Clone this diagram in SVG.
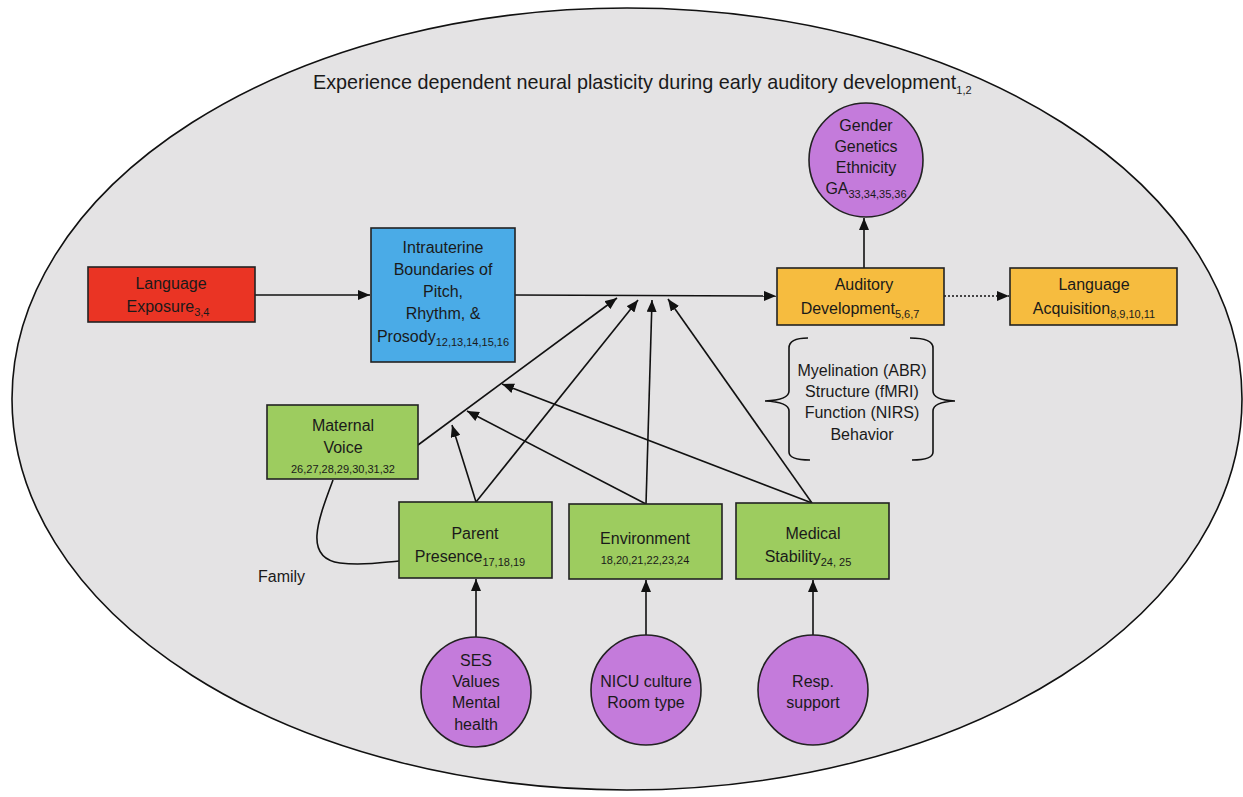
<svg xmlns="http://www.w3.org/2000/svg" width="1243" height="797" viewBox="0 0 1243 797">
<defs>
<marker id="ah" viewBox="0 0 12 10" refX="12" refY="5" markerWidth="12" markerHeight="10" markerUnits="userSpaceOnUse" orient="auto">
<path d="M0,0 L12,5 L0,10 z" fill="#111"/>
</marker>
</defs>
<style>
text{font-family:"Liberation Sans",Arial,sans-serif;font-size:16px;fill:#1a1a1a;text-anchor:middle}
.sub{font-size:11px}
.sm{font-size:11px}
.box{stroke:#222;stroke-width:1.6}
.red{fill:#ea3424}
.blue{fill:#4aabe7}
.orange{fill:#f6bc3f}
.green{fill:#9dcc5f}
.purple{fill:#c47bdb;stroke:#222;stroke-width:1.6}
.conn{stroke:#111;stroke-width:1.6;fill:none}
.arr{marker-end:url(#ah)}
</style>
<rect width="1243" height="797" fill="#ffffff"/>
<ellipse id="bg" cx="627" cy="399" rx="615" ry="391" fill="#e4e3e4" stroke="#111" stroke-width="1.6"/>
<text id="title" x="313" y="89" style="text-anchor:start;font-size:19.8px">Experience dependent neural plasticity during early auditory development<tspan class="sub" dy="5">1,2</tspan></text>

<g id="connectors">
<line class="conn arr" x1="255" y1="295" x2="370" y2="295"/>
<line class="conn arr" x1="515" y1="295" x2="776" y2="296"/>
<line class="conn arr" x1="864" y1="268" x2="864" y2="218"/>
<line class="conn arr" x1="944" y1="296" x2="1009" y2="296" stroke-dasharray="2,2"/>
<line class="conn arr" x1="418" y1="445" x2="617" y2="298"/>
<line class="conn arr" x1="476" y1="502" x2="638" y2="300"/>
<line class="conn arr" x1="646" y1="504" x2="652" y2="300"/>
<line class="conn arr" x1="812" y1="503" x2="668" y2="299"/>
<line class="conn arr" x1="476" y1="502" x2="452" y2="425"/>
<line class="conn arr" x1="646" y1="504" x2="467" y2="411"/>
<line class="conn arr" x1="812" y1="503" x2="502" y2="384"/>
<line class="conn arr" x1="476" y1="637" x2="476" y2="579"/>
<line class="conn arr" x1="646" y1="635" x2="646" y2="580"/>
<line class="conn arr" x1="813" y1="635" x2="813" y2="580"/>
<path class="conn" d="M333,480 C318,520 303,558 340,563 C365,566 385,562 399,561"/>
</g>

<g id="language-exposure">
<rect class="box red" x="88" y="267" width="167" height="55"/>
<text x="171" y="289">Language</text>
<text x="168" y="312">Exposure<tspan class="sub" dy="4">3,4</tspan></text>
</g>

<g id="intrauterine">
<rect class="box blue" x="371" y="228" width="144" height="134"/>
<text x="443" y="253">Intrauterine</text>
<text x="443" y="275">Boundaries of</text>
<text x="443" y="297">Pitch,</text>
<text x="443" y="319">Rhythm, &amp;</text>
<text x="443" y="342">Prosody<tspan class="sub" dy="4">12,13,14,15,16</tspan></text>
</g>

<g id="auditory-development">
<rect class="box orange" x="777" y="268" width="167" height="57"/>
<text x="864" y="290">Auditory</text>
<text x="860" y="314">Development<tspan class="sub" dy="4">5,6,7</tspan></text>
</g>

<g id="language-acquisition">
<rect class="box orange" x="1010" y="268" width="167" height="57"/>
<text x="1094" y="290">Language</text>
<text x="1094" y="314">Acquisition<tspan class="sub" dy="4">8,9,10,11</tspan></text>
</g>

<g id="gender">
<circle class="purple" cx="866" cy="160" r="57"/>
<text x="866" y="131">Gender</text>
<text x="866" y="152">Genetics</text>
<text x="866" y="173">Ethnicity</text>
<text x="866" y="194">GA<tspan class="sub" dy="4">33,34,35,36</tspan></text>
</g>

<g id="measures">
<path class="conn" d="M808,338 Q789,338 789,348 L789,391 Q789,400 765,401 Q789,402 789,411 L789,452 Q789,460 810,460"/>
<path class="conn" d="M910,338 Q933,338 933,348 L933,391 Q933,400 955,401 Q933,402 933,411 L933,452 Q933,460 912,460"/>
<text x="862" y="376">Myelination (ABR)</text>
<text x="862" y="397">Structure (fMRI)</text>
<text x="862" y="418">Function (NIRS)</text>
<text x="862" y="440">Behavior</text>
</g>

<g id="maternal-voice">
<rect class="box green" x="267" y="405" width="151" height="74"/>
<text x="343" y="431">Maternal</text>
<text x="343" y="453">Voice</text>
<text class="sm" x="343" y="473">26,27,28,29,30,31,32</text>
</g>

<g id="parent-presence">
<rect class="box green" x="399" y="502" width="153" height="76"/>
<text x="475" y="539">Parent</text>
<text x="470" y="562">Presence<tspan class="sub" dy="4">17,18,19</tspan></text>
</g>

<g id="environment">
<rect class="box green" x="569" y="504" width="153" height="75"/>
<text x="645" y="544">Environment</text>
<text class="sm" x="645" y="564">18,20,21,22,23,24</text>
</g>

<g id="medical-stability">
<rect class="box green" x="736" y="503" width="153" height="76"/>
<text x="813" y="539">Medical</text>
<text x="808" y="562">Stability<tspan class="sub" dy="4">24, 25</tspan></text>
</g>

<text id="family" x="258" y="582" style="text-anchor:start">Family</text>

<g id="ses">
<circle class="purple" cx="476" cy="692" r="55"/>
<text x="476" y="666">SES</text>
<text x="476" y="687">Values</text>
<text x="476" y="708">Mental</text>
<text x="476" y="730">health</text>
</g>

<g id="nicu">
<circle class="purple" cx="646" cy="690" r="55"/>
<text x="646" y="687">NICU culture</text>
<text x="646" y="708">Room type</text>
</g>

<g id="resp">
<circle class="purple" cx="813" cy="690" r="55"/>
<text x="813" y="687">Resp.</text>
<text x="813" y="708">support</text>
</g>
</svg>
